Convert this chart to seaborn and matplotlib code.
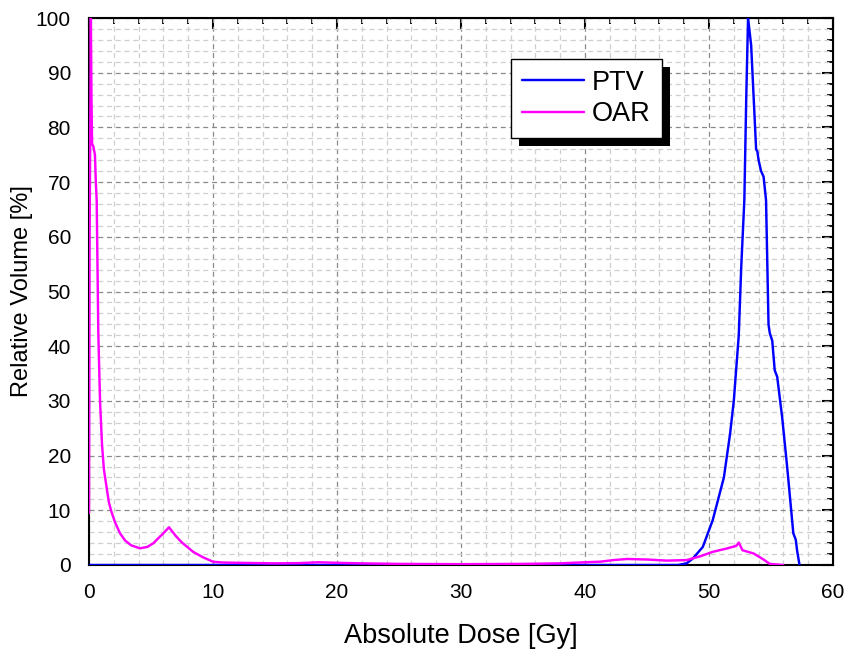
import numpy as np
import pandas as pd
import matplotlib
matplotlib.use("Agg")
import matplotlib.pyplot as plt
import matplotlib.patheffects as pe
from matplotlib.ticker import MultipleLocator
import seaborn as sns

# ---- data ----
ptv_dose = [0, 47.5, 48.2, 48.7, 49.5, 50.3, 51.2, 51.7, 52.0, 52.4, 52.6, 52.85,
            53.0, 53.15, 53.4, 53.8, 53.9, 54.0, 54.2, 54.4, 54.6, 54.8, 54.9,
            55.1, 55.3, 55.5, 55.9, 56.3, 56.8, 57.0, 57.1, 57.3]
ptv_vol = [0, 0, 0.3, 1.2, 3.3, 8.2, 16, 24, 30, 42, 54.5, 66.7,
           85, 100, 95, 76, 75.6, 74, 72, 71, 66.7, 44, 42.4,
           41, 35.6, 34.4, 27, 18, 5.8, 4.6, 2.7, 0]

oar_dose = [0, 0.05, 0.15, 0.2, 0.25, 0.35, 0.48, 0.55, 0.62, 0.75, 0.89, 1.05,
            1.2, 1.4, 1.6, 1.8, 2.1, 2.5, 2.9, 3.4, 4.1, 4.7, 5.2, 5.5, 6.0,
            6.45, 7.0, 7.5, 8.4, 9.2, 10.0, 10.8, 12, 15, 17, 18.5, 20, 22, 25,
            30, 35, 38, 40, 41.2, 42.3, 43.4, 45, 46.6, 48.2, 49.3, 50.3, 51.4,
            52.2, 52.4, 52.7, 53.6, 54.4, 54.9, 56]
oar_vol = [9.5, 60, 100, 85, 77, 76.5, 75, 70, 66.7, 42.4, 30, 22,
           17.5, 14.5, 11.5, 9.8, 7.8, 5.8, 4.5, 3.6, 3.05, 3.3, 4.0, 4.7, 5.8,
           6.9, 5.3, 4.1, 2.4, 1.4, 0.6, 0.45, 0.4, 0.3, 0.35, 0.5, 0.4, 0.3, 0.2,
           0.15, 0.2, 0.3, 0.5, 0.6, 0.9, 1.1, 1.0, 0.8, 0.9, 1.6, 2.4, 3.0,
           3.5, 4.1, 2.7, 2.1, 1.0, 0.2, 0.0]

series = ["PTV", "OAR"]
colors = {"PTV": "#0000FF", "OAR": "#FF00FF"}
x_ticks = [0, 10, 20, 30, 40, 50, 60]
y_ticks = [0, 10, 20, 30, 40, 50, 60, 70, 80, 90, 100]

df = pd.concat([
    pd.DataFrame({"dose": ptv_dose, "vol": ptv_vol, "s": "PTV"}),
    pd.DataFrame({"dose": oar_dose, "vol": oar_vol, "s": "OAR"}),
], ignore_index=True)

sns.set_style("white")
plt.rcParams["font.family"] = ["Liberation Sans", "DejaVu Sans"]
plt.rcParams["text.color"] = "black"
plt.rcParams["axes.labelcolor"] = "black"
plt.rcParams["xtick.color"] = "black"
plt.rcParams["ytick.color"] = "black"

fig = plt.figure(figsize=(8.5, 6.57), dpi=100)
ax = fig.add_axes([89/850, 1-565/657, (833-89)/850, (565-18)/657])

sns.lineplot(data=df, x="dose", y="vol", hue="s", hue_order=series, palette=colors,
             sort=False, estimator=None, linewidth=1.75, ax=ax, zorder=3)

ax.set_xlim(0, 60)
ax.set_ylim(0, 100)
ax.set_xticks(x_ticks)
ax.set_yticks(y_ticks)
ax.xaxis.set_minor_locator(MultipleLocator(2))
ax.yaxis.set_minor_locator(MultipleLocator(2))

ax.grid(True, which="major", color="#8a8a8a", linestyle=(0, (4, 3)), linewidth=0.9)
ax.grid(True, which="minor", color="#cfcfcf", linestyle=(0, (4, 3)), linewidth=0.9)
ax.set_axisbelow(True)

for sp in ax.spines.values():
    sp.set_linewidth(1.5)
    sp.set_color("black")

ax.tick_params(which="major", direction="out", length=8, width=1.5, labelsize=15,
               colors="black", pad=5)
ax.tick_params(which="minor", direction="out", length=4.5, width=1.3, colors="black")

secx = ax.secondary_xaxis("top")
secx.set_xticks(x_ticks)
secx.xaxis.set_minor_locator(MultipleLocator(2))
secx.tick_params(which="major", direction="in", length=8, width=1.5, labeltop=False)
secx.tick_params(which="minor", direction="in", length=4.5, width=1.3)
secy = ax.secondary_yaxis("right")
secy.set_yticks(y_ticks)
secy.yaxis.set_minor_locator(MultipleLocator(2))
secy.tick_params(which="major", direction="in", length=8, width=1.5, labelright=False)
secy.tick_params(which="minor", direction="in", length=4.5, width=1.3)

ax.set_xlabel("Absolute Dose [Gy]", fontsize=19.5, labelpad=15, color="black")
ax.set_ylabel("Relative Volume [%]", fontsize=17, labelpad=2, color="black")

handles, labels = ax.get_legend_handles_labels()
leg = ax.legend(handles, labels, loc="upper left", bbox_to_anchor=(0.567, 0.925),
                borderaxespad=0, fontsize=19.5, frameon=True, fancybox=False,
                framealpha=1.0, handlelength=2.3, borderpad=0.4, labelspacing=0.2,
                handletextpad=0.3)
frame = leg.get_frame()
frame.set_facecolor("white")
frame.set_edgecolor("black")
frame.set_linewidth(1.0)
frame.set_path_effects([pe.SimplePatchShadow(offset=(5.8, -5.8), shadow_rgbFace="black",
                                             alpha=1.0), pe.Normal()])
for line in leg.get_lines():
    line.set_linewidth(1.75)
leg.set_zorder(10)

fig.savefig("out.png", dpi=100)
